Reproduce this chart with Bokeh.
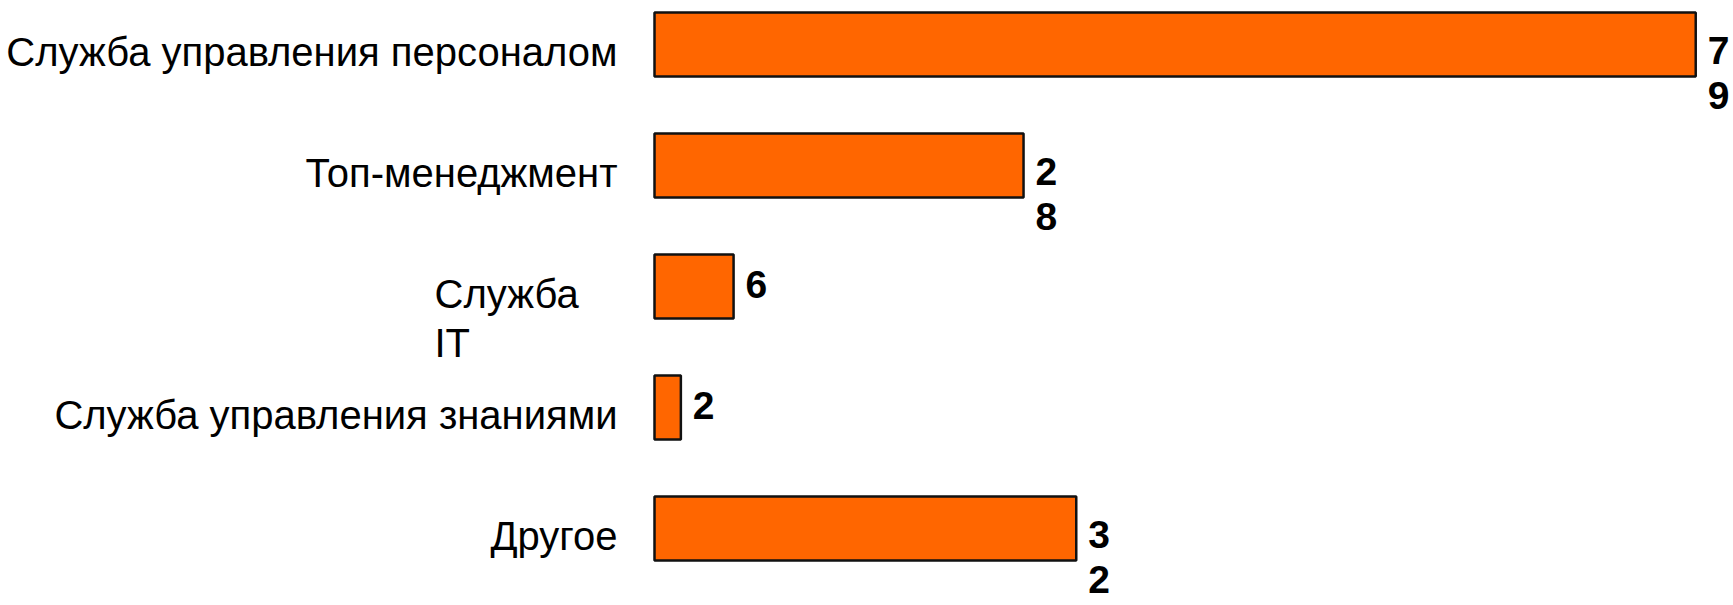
from bokeh.plotting import figure
from bokeh.models import ColumnDataSource, Range1d
from bokeh.core.properties import value
from bokeh.embed import file_html
from bokeh.resources import INLINE

# ---- data ----
categories = ["Служба управления персоналом", "Топ-менеджмент", "Служба\nIT",
              "Служба управления знаниями", "Другое"]
values = [79, 28, 6, 2, 32]
value_labels = ["7\n9", "2\n8", "6", "2", "3\n2"]

n = len(categories)
ypos = list(range(n))

W, H = 1733, 605
px_per_unit = 13.18
x0_px = 654
shift = 0.136

p = figure(width=W, height=H, output_backend="svg", toolbar_location=None,
           x_range=Range1d(-x0_px / px_per_unit, (W - x0_px) / px_per_unit),
           y_range=Range1d(n - 0.5 + shift, -0.5 + shift),
           min_border=0, min_border_left=0, min_border_right=0,
           min_border_top=0, min_border_bottom=0)
p.axis.visible = False
p.grid.visible = False
p.outline_line_color = None
p.background_fill_color = "white"
p.border_fill_color = "white"

src = ColumnDataSource(dict(y=ypos, v=values, cat=categories, lab=value_labels))
p.hbar(y="y", left=0, right="v", height=0.53, source=src,
       fill_color="#FF6600", line_color="#111111", line_width=2.5)

# value labels
p.text(x="v", y="y", text="lab", source=src, x_offset=12, y_offset=-16,
       text_font=value("Liberation Sans"), text_font_style="bold",
       text_font_size="39px", text_color="black", text_align="left",
       text_baseline="top", text_line_height=1.06)

# category labels
single = [i for i, c in enumerate(categories) if "\n" not in c]
multi = [i for i, c in enumerate(categories) if "\n" in c]
s1 = ColumnDataSource(dict(y=[ypos[i] for i in single], cat=[categories[i] for i in single],
                           x=[0] * len(single)))
s2 = ColumnDataSource(dict(y=[ypos[i] for i in multi], cat=[categories[i] for i in multi],
                           x=[0] * len(multi)))
p.text(x="x", y="y", text="cat", source=s1, x_offset=-37, y_offset=7,
       text_font=value("Liberation Sans"), text_font_size="40px",
       text_color="black", text_align="right", text_baseline="middle")
p.text(x="x", y="y", text="cat", source=s2, x_offset=-220, y_offset=-15,
       text_font=value("Liberation Sans"), text_font_size="40px",
       text_color="black", text_align="left", text_baseline="top",
       text_line_height=1.12)

open("out.html", "w").write(file_html(p, INLINE))
